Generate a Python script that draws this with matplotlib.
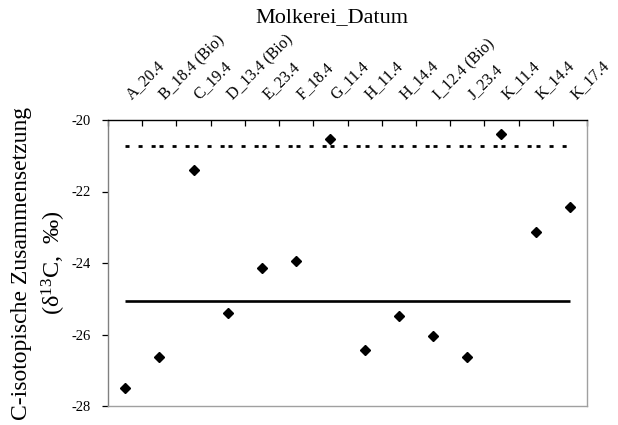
import matplotlib
matplotlib.use("Agg")
import matplotlib.pyplot as plt
import numpy as np

plt.rcParams['font.family'] = ['Liberation Serif', 'DejaVu Serif']
plt.rcParams['mathtext.fontset'] = 'custom'
plt.rcParams['mathtext.rm'] = 'Liberation Serif'
plt.rcParams['mathtext.it'] = 'Liberation Serif:italic'
plt.rcParams['lines.scale_dashes'] = False

categories = ["A_20.4", "B_18.4 (Bio)", "C_19.4", "D_13.4 (Bio)", "E_23.4", "F_18.4",
              "G_11.4", "H_11.4", "H_14.4", "I_12.4 (Bio)", "J_23.4", "K_11.4",
              "K_14.4", "K_17.4"]
delta13C = [-27.50, -26.64, -21.40, -25.40, -24.13, -23.95, -20.53, -26.42,
            -25.48, -26.05, -26.62, -20.39, -23.12, -22.42]
mean_value = -25.05
upper_limit = -20.72
y_ticks = [-28, -26, -24, -22, -20]

fig = plt.figure(figsize=(6.18, 4.25), dpi=100)
ax = fig.add_axes([108/618, 1-406/425, (587-108)/618, (406-120)/425])

x = np.arange(len(categories))
# dashed reference line drawn segment by segment (pattern restarts per category)
for i in range(len(x) - 1):
    ax.plot(x[i:i+2], [upper_limit, upper_limit], color='black', lw=2.0,
            linestyle=(0, (2.9, 6.5)), dash_capstyle='butt', solid_capstyle='butt')
ax.plot(x, [mean_value]*len(x), color='black', lw=1.9, solid_capstyle='butt')
ax.plot(x, delta13C, linestyle='none', marker='D', ms=5.6, color='black')

ax.set_xlim(-0.5, len(categories) - 0.5)
ax.set_ylim(-28, -20)
ax.set_yticks(y_ticks)
ax.set_yticklabels([str(v) for v in y_ticks], fontsize=10.5)
ax.tick_params(axis='y', direction='out', length=4, width=0.9, pad=8.5, color='black')

ax.set_xticks(np.arange(len(categories) + 1) - 0.5)
ax.set_xticklabels([])
ax.xaxis.tick_top()
ax.tick_params(axis='x', which='major', direction='in', length=4, width=0.9,
               top=True, bottom=False, color='black')

for i, lab in enumerate(categories):
    ax.annotate(lab, xy=(i, 1.0), xycoords=('data', 'axes fraction'),
                xytext=(4.3, 14.4), textcoords='offset points', rotation=45,
                ha='left', va='baseline', rotation_mode='anchor', fontsize=11.5)

for s in ['left']:
    ax.spines[s].set_color('#808080')
for s in ['right', 'bottom']:
    ax.spines[s].set_color('#a0a0a0')
ax.spines['top'].set_color('black')
for s in ax.spines.values():
    s.set_linewidth(1.0)

fig.text(332/618, 1-18/425, "Molkerei_Datum", ha='center', va='center', fontsize=16)
fig.text(22/618, 1-263/425, "C-isotopische Zusammensetzung", rotation=90,
         ha='center', va='center', fontsize=17)
fig.text(54/618, 1-263/425, r"(δ$^{13}$C,  ‰)", rotation=90,
         ha='center', va='center', fontsize=17.5)

fig.savefig("out.png", dpi=100)
